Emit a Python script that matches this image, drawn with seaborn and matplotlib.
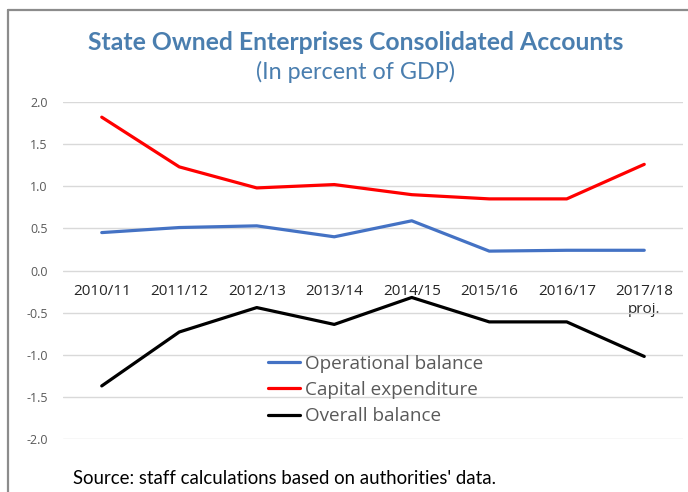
import matplotlib
matplotlib.use("Agg")
import matplotlib.pyplot as plt
import seaborn as sns
import pandas as pd
from matplotlib.lines import Line2D

categories = ["2010/11", "2011/12", "2012/13", "2013/14", "2014/15", "2015/16", "2016/17", "2017/18"]
tick_labels = ["2010/11", "2011/12", "2012/13", "2013/14", "2014/15", "2015/16", "2016/17", "2017/18\nproj."]
operational = [0.45, 0.51, 0.53, 0.40, 0.59, 0.23, 0.24, 0.24]
capex = [1.82, 1.23, 0.98, 1.02, 0.90, 0.85, 0.85, 1.26]
overall = [-1.37, -0.73, -0.44, -0.64, -0.32, -0.61, -0.61, -1.02]
series_names = ["Operational balance", "Capital expenditure", "Overall balance"]
y_ticks = [2.0, 1.5, 1.0, 0.5, 0.0, -0.5, -1.0, -1.5, -2.0]

rows = []
for name, vals in zip(series_names, [operational, capex, overall]):
    for i, v in enumerate(vals):
        rows.append({"idx": i, "value": v, "series": name})
df = pd.DataFrame(rows)

sns.set_theme(style="white")
plt.rcParams["font.family"] = ["Open Sans", "DejaVu Sans"]

fig = plt.figure(figsize=(6.88, 4.92), dpi=100)
ax = fig.add_axes([63/688, 1-439/492, 620/688, 337/492])

palette = {"Operational balance": "#4472C4", "Capital expenditure": "#FF0000", "Overall balance": "#000000"}
sns.lineplot(data=df, x="idx", y="value", hue="series", palette=palette, linewidth=2.3,
             ax=ax, legend=False, zorder=3)

ax.set_xlim(-0.5, len(categories) - 0.5)
ax.set_ylim(-2.0, 2.0)
ax.set_yticks(y_ticks)
ax.set_yticklabels([f"{t:.1f}" for t in y_ticks], color="#595959", fontsize=9)
ax.set_xticks(range(len(categories)))
ax.set_xticklabels(tick_labels, color="#595959", fontsize=8.6, linespacing=1.05)
ax.set_xlabel("")
ax.set_ylabel("")
ax.grid(axis="y", color="#d9d9d9", linewidth=1.0)
ax.grid(axis="x", visible=False)
for s in ["top", "right", "left"]:
    ax.spines[s].set_visible(False)
ax.spines["bottom"].set_position(("data", 0))
ax.spines["bottom"].set_visible(False)
ax.tick_params(axis="x", length=0, pad=10)
ax.tick_params(axis="y", length=0, pad=11)

handles = [Line2D([], [], color=palette[n], linewidth=2.3) for n in series_names]
leg = ax.legend(handles, series_names, loc="upper left", bbox_to_anchor=(0.318, 0.272),
                frameon=False, fontsize=13.6, handlelength=1.7, handletextpad=0.28,
                labelspacing=0.43, borderaxespad=0)
for t in leg.get_texts():
    t.set_color("#595959")

title_x = 356/688
fig.text(title_x, 1-42/492, "State Owned Enterprises Consolidated Accounts", ha="center", va="center",
         fontsize=17.8, fontweight="bold", color="#4A7EAF", family=["Lato", "DejaVu Sans"])
fig.text(title_x, 1-72/492, "(In percent of GDP)", ha="center", va="center",
         fontsize=16.8, color="#4A7EAF", family=["Lato", "DejaVu Sans"])
fig.text(73/688, 1-478/492, "Source: staff calculations based on authorities' data.", ha="left", va="center",
         fontsize=13.4, color="#000000", family=["Lato", "DejaVu Sans"])

fig.add_artist(Line2D([8/688, 8/688], [0, 1-10/492], transform=fig.transFigure, color="#8c8c8c", linewidth=1.6))
fig.add_artist(Line2D([8/688, 1], [1-10/492, 1-10/492], transform=fig.transFigure, color="#8c8c8c", linewidth=1.6))

fig.savefig("out.png", dpi=100)
